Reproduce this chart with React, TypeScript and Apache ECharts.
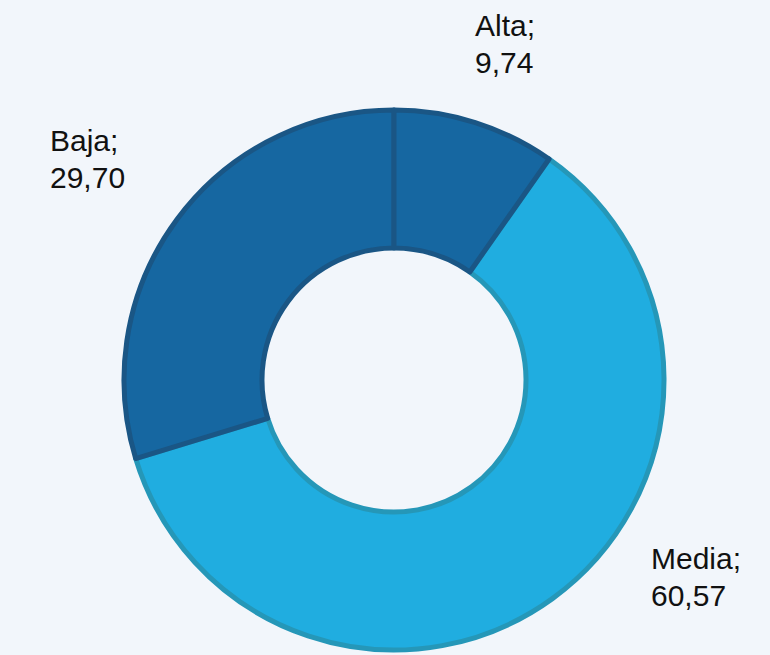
import React, { useEffect, useRef } from "react";
import * as echarts from "echarts";

const categories = ["Alta", "Media", "Baja"];
const values = [9.74, 60.57, 29.7];
const fillColors = ["#1667a1", "#20ade0", "#1667a1"];
const borderColors = ["#1a5685", "#2597b8", "#1a5685"];
// label anchor points (top-left of each label block)
const labelAnchors: Record<string, [number, number]> = {
  Alta: [475, 7],
  Baja: [50, 122],
  Media: [651, 540],
};

export default function App() {
  const ref = useRef<HTMLDivElement>(null);
  useEffect(() => {
    document.body.style.margin = "0";
    const chart = echarts.init(ref.current!, undefined, { renderer: "svg" });
    const total = values.reduce((a, b) => a + b, 0);
    // draw order: Media, Baja, Alta so dark borders lie on top
    const order = [1, 2, 0];
    const startAngle = 90 - (360 * values[0]) / total;
    const data = order.map((i) => ({
      name: categories[i],
      value: values[i],
      itemStyle: { color: fillColors[i], borderColor: borderColors[i], borderWidth: 5 },
    }));
    chart.setOption({
      animation: false,
      backgroundColor: "#f2f6fb",
      series: [
        {
          type: "pie",
          center: [394, 380],
          radius: [132, 270],
          startAngle,
          clockwise: true,
          avoidLabelOverlap: false,
          data,
          label: {
            show: true,
            position: "outside",
            formatter: (p: any) => `${p.name};\n${p.value.toFixed(2).replace(".", ",")}`,
            fontFamily: "Liberation Sans, Arial, sans-serif",
            fontSize: 30,
            lineHeight: 37,
            color: "#111111",
            align: "left",
          },
          labelLine: { show: false },
          labelLayout: (params: any) => {
            const name = data[params.dataIndex].name;
            const [x, y] = labelAnchors[name];
            return { x, y, align: "left", verticalAlign: "top" };
          },
          emphasis: { disabled: true },
        },
      ],
    });
    return () => chart.dispose();
  }, []);
  return <div ref={ref} style={{ width: 770, height: 655 }} />;
}
